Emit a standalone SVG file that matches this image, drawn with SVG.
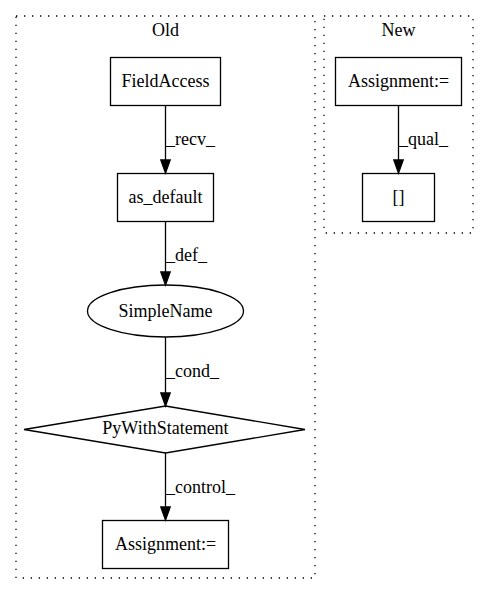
<svg xmlns="http://www.w3.org/2000/svg" width="488" height="596" viewBox="0 0 488 596">
<style>
text{font-family:"Liberation Serif","Times New Roman",serif;font-size:18px;fill:#000}
.c{text-anchor:middle}
.node{fill:none;stroke:#000;stroke-width:1.3}
.cluster{fill:none;stroke:#000;stroke-width:1.3;stroke-dasharray:1.3,6.7}
.edge{stroke:#000;stroke-width:1.3;fill:none}
.ah{fill:#000;stroke:#000;stroke-width:1.3}
</style>
<rect width="488" height="596" fill="#fff"/>
<g id="cluster_old">
<rect class="cluster" x="16" y="16" width="299" height="562"/>
<text class="c" x="165.5" y="36">Old</text>
</g>
<g id="cluster_new">
<rect class="cluster" x="324" y="16" width="149" height="217"/>
<text class="c" x="398.5" y="36">New</text>
</g>
<g id="n_fieldaccess">
<rect class="node" x="110.5" y="57.5" width="110" height="48"/>
<text class="c" x="165.5" y="86.5">FieldAccess</text>
</g>
<g id="n_asdefault">
<rect class="node" x="117.5" y="173.5" width="96" height="48"/>
<text class="c" x="165.5" y="202.5">as_default</text>
</g>
<g id="n_simplename">
<ellipse class="node" cx="165.5" cy="311" rx="78" ry="26"/>
<text class="c" x="165.5" y="317">SimpleName</text>
</g>
<g id="n_pywith">
<polygon class="node" points="165.5,406 305,429.5 165.5,453 24,429.5"/>
<text class="c" x="165.5" y="434">PyWithStatement</text>
</g>
<g id="n_assign_old">
<rect class="node" x="102.5" y="520.5" width="126" height="48"/>
<text class="c" x="165.5" y="549.5">Assignment:=</text>
</g>
<g id="n_assign_new">
<rect class="node" x="335.5" y="57.5" width="126" height="48"/>
<text class="c" x="398.5" y="86.5">Assignment:=</text>
</g>
<g id="n_index">
<rect class="node" x="362.5" y="173.5" width="72" height="48"/>
<text class="c" x="398.5" y="202.5">[]</text>
</g>
<g id="edges">
<line class="edge" x1="165.5" y1="106" x2="165.5" y2="160"/>
<polygon class="ah" points="160.8,160 170.2,160 165.5,173"/>
<text x="166" y="145">_recv_</text>
<line class="edge" x1="165.5" y1="222" x2="165.5" y2="272"/>
<polygon class="ah" points="160.8,272 170.2,272 165.5,285"/>
<text x="166" y="261">_def_</text>
<line class="edge" x1="165.5" y1="337" x2="165.5" y2="393"/>
<polygon class="ah" points="160.8,393 170.2,393 165.5,406"/>
<text x="166" y="377">_cond_</text>
<line class="edge" x1="165.5" y1="453" x2="165.5" y2="507"/>
<polygon class="ah" points="160.8,507 170.2,507 165.5,520"/>
<text x="166" y="493">_control_</text>
<line class="edge" x1="398.5" y1="106" x2="398.5" y2="160"/>
<polygon class="ah" points="393.8,160 403.2,160 398.5,173"/>
<text x="399" y="145">_qual_</text>
</g>
</svg>
